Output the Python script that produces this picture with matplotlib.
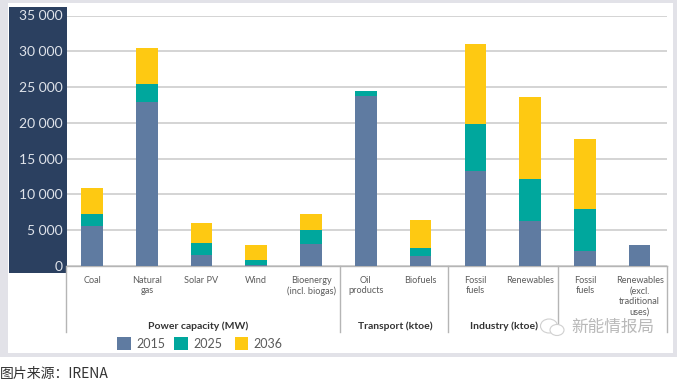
import matplotlib
matplotlib.use("Agg")
import matplotlib.pyplot as plt
from matplotlib.patches import Rectangle, Ellipse
from matplotlib.lines import Line2D

plt.rcParams['font.family'] = ['Lato', 'DejaVu Sans']

categories = ["Coal", "Natural\ngas", "Solar PV", "Wind", "Bioenergy\n(incl. biogas)",
              "Oil\nproducts", "Biofuels", "Fossil\nfuels", "Renewables",
              "Fossil\nfuels", "Renewables\n(excl.\ntraditional\nuses)"]
v2015 = [5630, 22950, 1540, 150, 3070, 23730, 1440, 13220, 6280, 2140, 2930]
v2025 = [1570, 2410, 1720, 690, 1960, 790, 1030, 6560, 5910, 5770, 0]
v2036 = [3740, 5030, 2790, 2090, 2270, 0, 4000, 11260, 11450, 9770, 0]
series_names = ["2015", "2025", "2036"]
yticks = [0, 5000, 10000, 15000, 20000, 25000, 30000, 35000]
ytick_labels = ["0", "5 000", "10 000", "15 000", "20 000", "25 000", "30 000", "35 000"]
sections = ["Power capacity (MW)", "Transport (ktoe)", "Industry (ktoe)"]
section_px = [198, 395, 504]

C15, C25, C36 = "#5f7ba1", "#00a79d", "#fec912"
PANEL = "#2b4060"
W, H = 679, 385

fig = plt.figure(figsize=(W / 100, H / 100), dpi=100, facecolor="white")

def fx(x): return x / W
def fy(y): return 1 - y / H
def rect(x0, y0, x1, y1, color, z=0):
    fig.add_artist(Rectangle((fx(x0), fy(y1)), (x1 - x0) / W, (y1 - y0) / H,
                             transform=fig.transFigure, fc=color, ec="none", zorder=z))
def line(x0, y0, x1, y1, color="#b5b5b5", lw=1.0, z=1):
    fig.add_artist(Line2D([fx(x0), fx(x1)], [fy(y0), fy(y1)], transform=fig.transFigure,
                          color=color, lw=lw, zorder=z))

# frame and panel
rect(0, 0, 677, 357, "#e2e2e8", -3)
rect(8, 3, 673, 353, "white", -2)
rect(8.5, 7, 66.5, 273, PANEL, -1)

ax = fig.add_axes([fx(66.5), fy(266), (667 - 66.5) / W, (266 - 15.5) / H])
ax.patch.set_alpha(0)
x = list(range(len(categories)))
b1 = v2015
b2 = [a + b for a, b in zip(v2015, v2025)]
ax.bar(x, v2015, width=0.395, color=C15, zorder=3)
ax.bar(x, v2025, bottom=b1, width=0.395, color=C25, zorder=3)
ax.bar(x, v2036, bottom=b2, width=0.395, color=C36, zorder=3)
ax.set_xlim(-0.466, 10.5)
ax.set_ylim(0, 35000)
ax.set_yticks(yticks, ytick_labels)
ax.set_xticks(x, categories)
ax.grid(axis="y", color="#c9c9c9", lw=1.1, zorder=0)
ax.set_axisbelow(True)
ax.tick_params(axis="y", length=0, pad=3, labelcolor="#dfe3ea", labelsize=10)
ax.tick_params(axis="x", length=0, pad=7, labelcolor="#5c5c5c", labelsize=6.6)
for lab in ax.get_xticklabels():
    lab.set_linespacing(1.25)
    lab.set_verticalalignment("top")
for s in ["top", "left", "right"]:
    ax.spines[s].set_visible(False)
ax.spines["bottom"].set_color("#b5b5b5")
ax.spines["bottom"].set_linewidth(1.0)

# section dividers
for px in [65.5, 340, 448, 558, 667]:
    line(px, 266, px, 332)

for s, px in zip(sections, section_px):
    fig.text(fx(px), fy(326), s, ha="center", va="center", fontsize=7.5,
             fontweight="bold", color="#333333")

# legend
for name, c, x0 in zip(series_names, [C15, C25, C36], [117, 174.5, 234.5]):
    rect(x0, 337, x0 + 13.5, 350, c, 2)
    fig.text(fx(x0 + 19), fy(343.5), name, ha="left", va="center", fontsize=9, color="#5a5a5a")

# watermark
wm = "#b9b9b9"
fig.add_artist(Ellipse((fx(549), fy(326)), 17 / W, 14 / H, transform=fig.transFigure,
                       fc="white", ec="#d0d0d0", lw=0.8, zorder=4))
fig.add_artist(Ellipse((fx(557), fy(330)), 14 / W, 11 / H, transform=fig.transFigure,
                       fc="white", ec="#d0d0d0", lw=0.8, zorder=4))
fig.text(fx(571), fy(327), "新能情报局", ha="left", va="center", fontsize=12,
         color=wm, family=["Noto Sans CJK SC", "DejaVu Sans"], zorder=5)

# caption
fig.text(fx(0), fy(374), "图片来源\uff1aIRENA", ha="left", va="center", fontsize=10,
         color="#333333", family=["Noto Sans CJK SC", "DejaVu Sans"])

fig.savefig("out.png", dpi=100)
